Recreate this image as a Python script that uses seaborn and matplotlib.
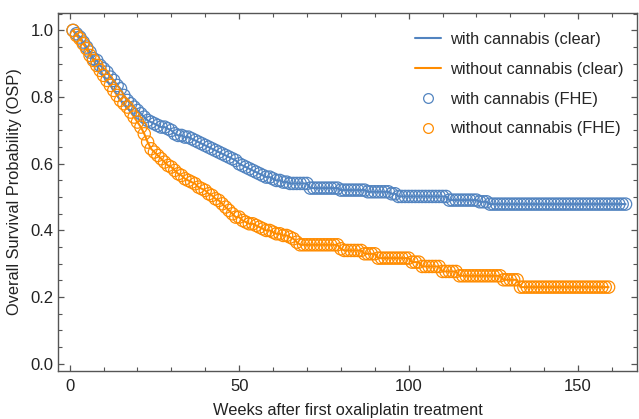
"""Overall survival probability: with vs without cannabis (clear vs FHE)."""

import matplotlib
matplotlib.use("Agg")
import matplotlib.pyplot as plt
from matplotlib.lines import Line2D
from matplotlib.ticker import MultipleLocator
import pandas as pd
import seaborn as sns

# survival probability per week
osp_with = [
    1.000, 0.990, 0.980, 0.965, 0.950, 0.935, 0.915, 0.910, 0.895, 0.885,
    0.875, 0.860, 0.850, 0.835, 0.825, 0.805, 0.790, 0.780, 0.770, 0.760,
    0.750, 0.740, 0.730, 0.725, 0.720, 0.715, 0.710, 0.710, 0.705, 0.700,
    0.690, 0.685, 0.685, 0.680, 0.680, 0.675, 0.670, 0.665, 0.660, 0.655,
    0.650, 0.645, 0.640, 0.635, 0.630, 0.625, 0.620, 0.615, 0.610, 0.600,
    0.595, 0.590, 0.585, 0.580, 0.575, 0.570, 0.565, 0.560, 0.560, 0.555,
    0.550, 0.550, 0.545, 0.545, 0.541, 0.541, 0.541, 0.541, 0.541, 0.541,
    0.527, 0.527, 0.527, 0.527, 0.527, 0.527, 0.527, 0.527, 0.527, 0.521,
    0.521, 0.521, 0.521, 0.521, 0.521, 0.521, 0.521, 0.516, 0.516, 0.516,
    0.516, 0.516, 0.516, 0.516, 0.510, 0.510, 0.502, 0.502, 0.502, 0.502,
    0.502, 0.502, 0.502, 0.502, 0.502, 0.502, 0.502, 0.502, 0.502, 0.502,
    0.502, 0.491, 0.491, 0.491, 0.491, 0.491, 0.491, 0.491, 0.491, 0.491,
    0.486, 0.486, 0.486, 0.479, 0.479, 0.479, 0.479, 0.479, 0.479, 0.479,
    0.479, 0.479, 0.479, 0.479, 0.479, 0.479, 0.479, 0.479, 0.479, 0.479,
    0.479, 0.479, 0.479, 0.479, 0.479, 0.479, 0.479, 0.479, 0.479, 0.479,
    0.479, 0.479, 0.479, 0.479, 0.479, 0.479, 0.479, 0.479, 0.479, 0.479,
    0.479, 0.479, 0.479, 0.479,
]
osp_without = [
    1.000, 0.985, 0.975, 0.960, 0.945, 0.925, 0.910, 0.895, 0.880, 0.865,
    0.850, 0.835, 0.820, 0.805, 0.790, 0.780, 0.770, 0.755, 0.740, 0.725,
    0.710, 0.690, 0.665, 0.645, 0.635, 0.625, 0.615, 0.605, 0.595, 0.590,
    0.580, 0.570, 0.565, 0.555, 0.550, 0.545, 0.540, 0.530, 0.525, 0.520,
    0.510, 0.505, 0.495, 0.490, 0.480, 0.470, 0.460, 0.450, 0.440, 0.440,
    0.430, 0.425, 0.420, 0.420, 0.415, 0.410, 0.405, 0.400, 0.400, 0.395,
    0.390, 0.390, 0.385, 0.385, 0.380, 0.375, 0.365, 0.357, 0.357, 0.357,
    0.357, 0.357, 0.357, 0.357, 0.357, 0.357, 0.357, 0.357, 0.357, 0.345,
    0.340, 0.340, 0.340, 0.340, 0.340, 0.340, 0.330, 0.330, 0.330, 0.330,
    0.317, 0.317, 0.317, 0.317, 0.317, 0.317, 0.317, 0.317, 0.317, 0.317,
    0.305, 0.305, 0.305, 0.292, 0.292, 0.292, 0.292, 0.292, 0.292, 0.277,
    0.277, 0.277, 0.277, 0.277, 0.264, 0.264, 0.264, 0.264, 0.264, 0.264,
    0.264, 0.264, 0.264, 0.264, 0.264, 0.264, 0.264, 0.252, 0.252, 0.252,
    0.252, 0.252, 0.230, 0.230, 0.230, 0.230, 0.230, 0.230, 0.230, 0.230,
    0.230, 0.230, 0.230, 0.230, 0.230, 0.230, 0.230, 0.230, 0.230, 0.230,
    0.230, 0.230, 0.230, 0.230, 0.230, 0.230, 0.230, 0.230, 0.230,
]
weeks_with = list(range(1, len(osp_with) + 1))
weeks_without = list(range(1, len(osp_without) + 1))

BLUE = "#5284C0"
ORANGE = "#FF8C00"

df_with = pd.DataFrame({"week": weeks_with, "osp": osp_with})
df_without = pd.DataFrame({"week": weeks_without, "osp": osp_without})

sns.set_style("ticks")
plt.rcParams["font.family"] = ["Liberation Sans", "DejaVu Sans"]

fig = plt.figure(figsize=(6.39, 4.19), dpi=100)
ax = fig.add_axes([0.091, 0.115, 0.906, 0.853])

sns.lineplot(data=df_with, x="week", y="osp", color=BLUE, lw=1.5, ax=ax, zorder=1)
sns.lineplot(data=df_without, x="week", y="osp", color=ORANGE, lw=1.5, ax=ax, zorder=2)
sns.scatterplot(data=df_with, x="week", y="osp", marker="o", s=78,
                facecolors="none", edgecolor=BLUE, linewidth=0.9, ax=ax, zorder=3)
sns.scatterplot(data=df_without, x="week", y="osp", marker="o", s=78,
                facecolors="none", edgecolor=ORANGE, linewidth=0.9, ax=ax, zorder=4)

ax.set_xlim(-3.4, 167.4)
ax.set_ylim(-0.021, 1.051)
ax.xaxis.set_major_locator(MultipleLocator(50))
ax.xaxis.set_minor_locator(MultipleLocator(10))
ax.yaxis.set_major_locator(MultipleLocator(0.2))
ax.yaxis.set_minor_locator(MultipleLocator(0.05))
ax.yaxis.set_major_formatter(matplotlib.ticker.FormatStrFormatter("%.1f"))

for s in ax.spines.values():
    s.set_visible(True)
    s.set_color("#555555")
    s.set_linewidth(1.0)
ax.tick_params(which="both", direction="in", top=True, right=True,
               color="#555555", labelsize=12, labelcolor="#222222")
ax.tick_params(which="major", length=4.5, width=0.9)
ax.tick_params(which="minor", length=2.8, width=0.8)
ax.tick_params(axis="x", which="major", pad=6)

ax.set_xlabel("Weeks after first oxaliplatin treatment", fontsize=11.8,
              color="#222222", labelpad=6.5)
ax.set_ylabel("Overall Survival Probability (OSP)", fontsize=11.8,
              color="#222222", labelpad=6)

handles = [
    Line2D([], [], color=BLUE, lw=1.5),
    Line2D([], [], color=ORANGE, lw=1.5),
    Line2D([], [], color=BLUE, ls="", marker="o", mfc="none", ms=7, mew=0.9),
    Line2D([], [], color=ORANGE, ls="", marker="o", mfc="none", ms=7, mew=0.9),
]
labels = ["with cannabis (clear)", "without cannabis (clear)",
          "with cannabis (FHE)", "without cannabis (FHE)"]
ax.legend(handles, labels, loc="upper right", frameon=False, fontsize=11.8,
          handlelength=1.6, handletextpad=0.55, labelspacing=0.9,
          borderaxespad=0.3, bbox_to_anchor=(0.997, 0.98))

fig.savefig("out.png", dpi=100)
plt.close(fig)
